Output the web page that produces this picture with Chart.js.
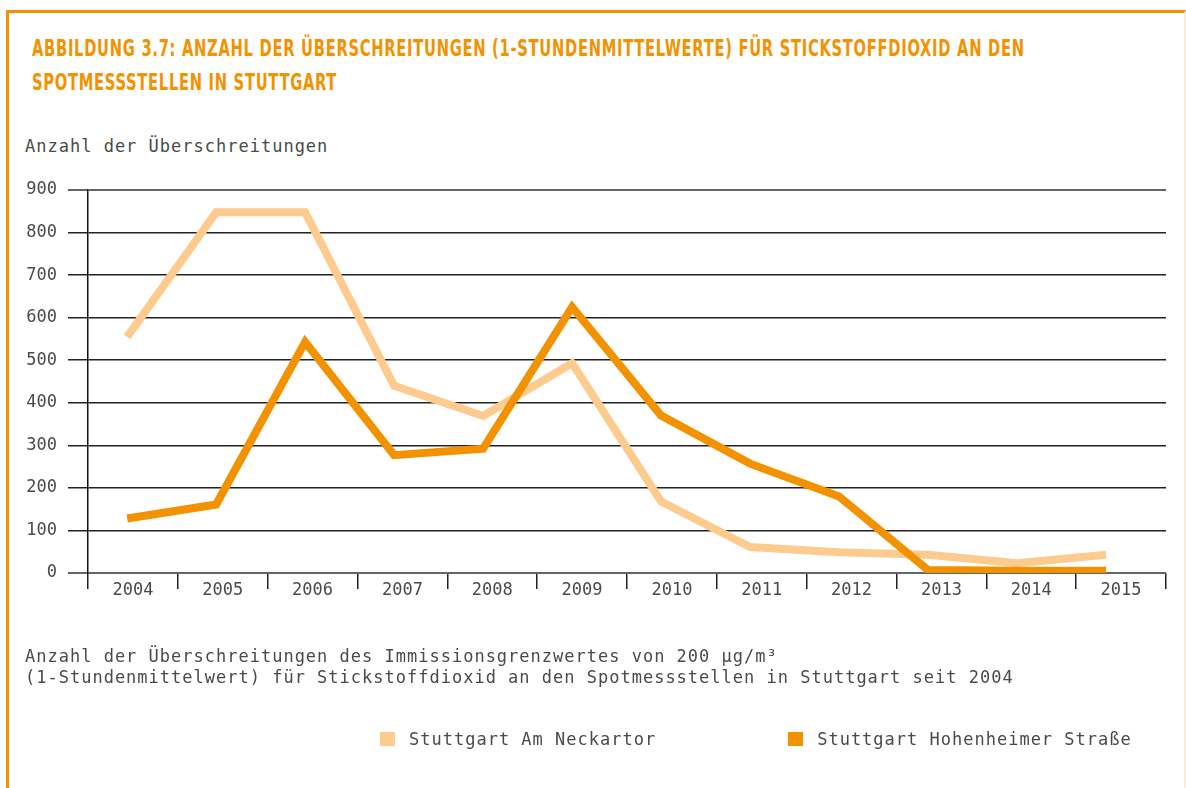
<!DOCTYPE html>
<html lang="de">
<head>
<meta charset="UTF-8">
<title>Abbildung 3.7</title>
<script src="https://cdn.jsdelivr.net/npm/chart.js@4.4.1/dist/chart.umd.min.js"></script>
<style>
    body { margin: 0; background: #fff; width: 1186px; height: 788px; overflow: hidden; position: relative; }
    .frame { position: absolute; left: 6px; top: 10px; right: 0; bottom: -5px;
             border-top: 3px solid #f39200; border-left: 3px solid #f39200; border-right: 2px solid #f5ecdc; }
    .title { position: absolute; left: 32px; top: 31px; color: #f39200; white-space: nowrap;
             font-family: "DejaVu Sans Condensed", "DejaVu Sans", sans-serif; font-weight: bold;
             font-size: 23px; letter-spacing: 1px; line-height: 34px; transform-origin: left top; }
    .mono { font-family: "DejaVu Sans Mono", monospace; font-size: 17px; letter-spacing: 1px; color: #4a4a4a; white-space: nowrap; }
    #ytitle { position: absolute; left: 25px; top: 136px; }
    #caption { position: absolute; left: 25px; top: 646px; line-height: 21px; }
    #legend { position: absolute; left: 380px; top: 729px; display: flex; gap: 132px; }
    #legend span.box { display: inline-block; width: 15px; height: 14px; margin-right: 14px; vertical-align: -1px; }
    canvas { position: absolute; left: 0; top: 0; }
</style>
</head>
<body>
<div class="frame"></div>
<div class="title" id="title">ABBILDUNG 3.7: ANZAHL DER ÜBERSCHREITUNGEN (1-STUNDENMITTELWERTE) FÜR STICKSTOFFDIOXID AN DEN<br>SPOTMESSSTELLEN IN STUTTGART</div>
<div class="mono" id="ytitle">Anzahl der Überschreitungen</div>
<canvas id="chart" width="1186" height="788"></canvas>
<div class="mono" id="caption">Anzahl der Überschreitungen des Immissionsgrenzwertes von 200&thinsp;µg/m³<br>(1-Stundenmittelwert) für Stickstoffdioxid an den Spotmessstellen in Stuttgart seit 2004</div>
<div class="mono" id="legend"></div>

<script>
    var years = [2004, 2005, 2006, 2007, 2008, 2009, 2010, 2011, 2012, 2013, 2014, 2015];
    var neckartor = [555, 848, 848, 440, 369, 493, 168, 61, 49, 43, 23, 43];
    var hohenheimer = [128, 161, 543, 277, 292, 625, 370, 257, 180, 7, 5, 5];
    var seriesNames = ['Stuttgart Am Neckartor', 'Stuttgart Hohenheimer Straße'];
    var seriesColors = ['#fecb8f', '#f39200'];
    var yTicks = [0, 100, 200, 300, 400, 500, 600, 700, 800, 900];

    // squeeze the title to the width of the original condensed face
    var title = document.getElementById('title');
    title.style.transform = 'scaleX(' + (993 / title.scrollWidth) + ')';

    var monoFont = { family: '"DejaVu Sans Mono", monospace', size: 17 };

    function points(values) {
        return values.map(function (v, i) { return { x: years[i], y: v }; });
    }

    var ctx = document.getElementById('chart').getContext('2d');
    var chart = new Chart(ctx, {
        type: 'line',
        data: {
            labels: years.map(String),
            datasets: [{
                label: seriesNames[0],
                data: points(neckartor),
                borderColor: seriesColors[0],
                backgroundColor: seriesColors[0],
                order: 2
            }, {
                label: seriesNames[1],
                data: points(hohenheimer),
                borderColor: seriesColors[1],
                backgroundColor: seriesColors[1],
                order: 1
            }]
        },
        options: {
            responsive: false,
            animation: false,
            events: [],
            layout: { padding: { top: 190, left: 0, right: 20, bottom: 175 } },
            elements: {
                line: { borderWidth: 8, tension: 0, borderJoinStyle: 'miter', borderCapStyle: 'butt', fill: false },
                point: { radius: 0 }
            },
            datasets: { line: { xAxisID: 'x', yAxisID: 'y' } },
            plugins: { legend: { display: false }, tooltip: { enabled: false } },
            scales: {
                x: {
                    type: 'linear',
                    display: false,
                    min: 2003.56,
                    max: 2015.674
                },
                x2: {
                    type: 'category',
                    position: 'bottom',
                    offset: true,
                    afterFit: function (s) { s.height = 40; },
                    grid: { offset: true, drawOnChartArea: false, tickLength: 16, color: '#222', lineWidth: 1.5 },
                    border: { display: false },
                    ticks: { color: '#4a4a4a', font: monoFont, padding: -9, maxRotation: 0, autoSkip: false }
                },
                y: {
                    min: 0,
                    max: 900,
                    afterFit: function (s) { s.width = 88; },
                    afterBuildTicks: function (s) { s.ticks = yTicks.map(function (v) { return { value: v }; }); },
                    grid: {
                        tickLength: 20,
                        color: function (c) { return (c.tick.value === 0 || c.tick.value === 900) ? '#666' : '#222'; },
                        lineWidth: function (c) { return (c.tick.value === 0 || c.tick.value === 900) ? 2 : 1.5; }
                    },
                    border: { display: true, color: '#111', width: 1.5 },
                    ticks: { color: '#4a4a4a', font: monoFont, padding: 11 }
                }
            }
        }
    });

    var legend = document.getElementById('legend');
    seriesNames.forEach(function (name, i) {
        var item = document.createElement('div');
        var box = document.createElement('span');
        box.className = 'box';
        box.style.background = seriesColors[i];
        item.appendChild(box);
        item.appendChild(document.createTextNode(name));
        legend.appendChild(item);
    });
</script>
</body>
</html>
